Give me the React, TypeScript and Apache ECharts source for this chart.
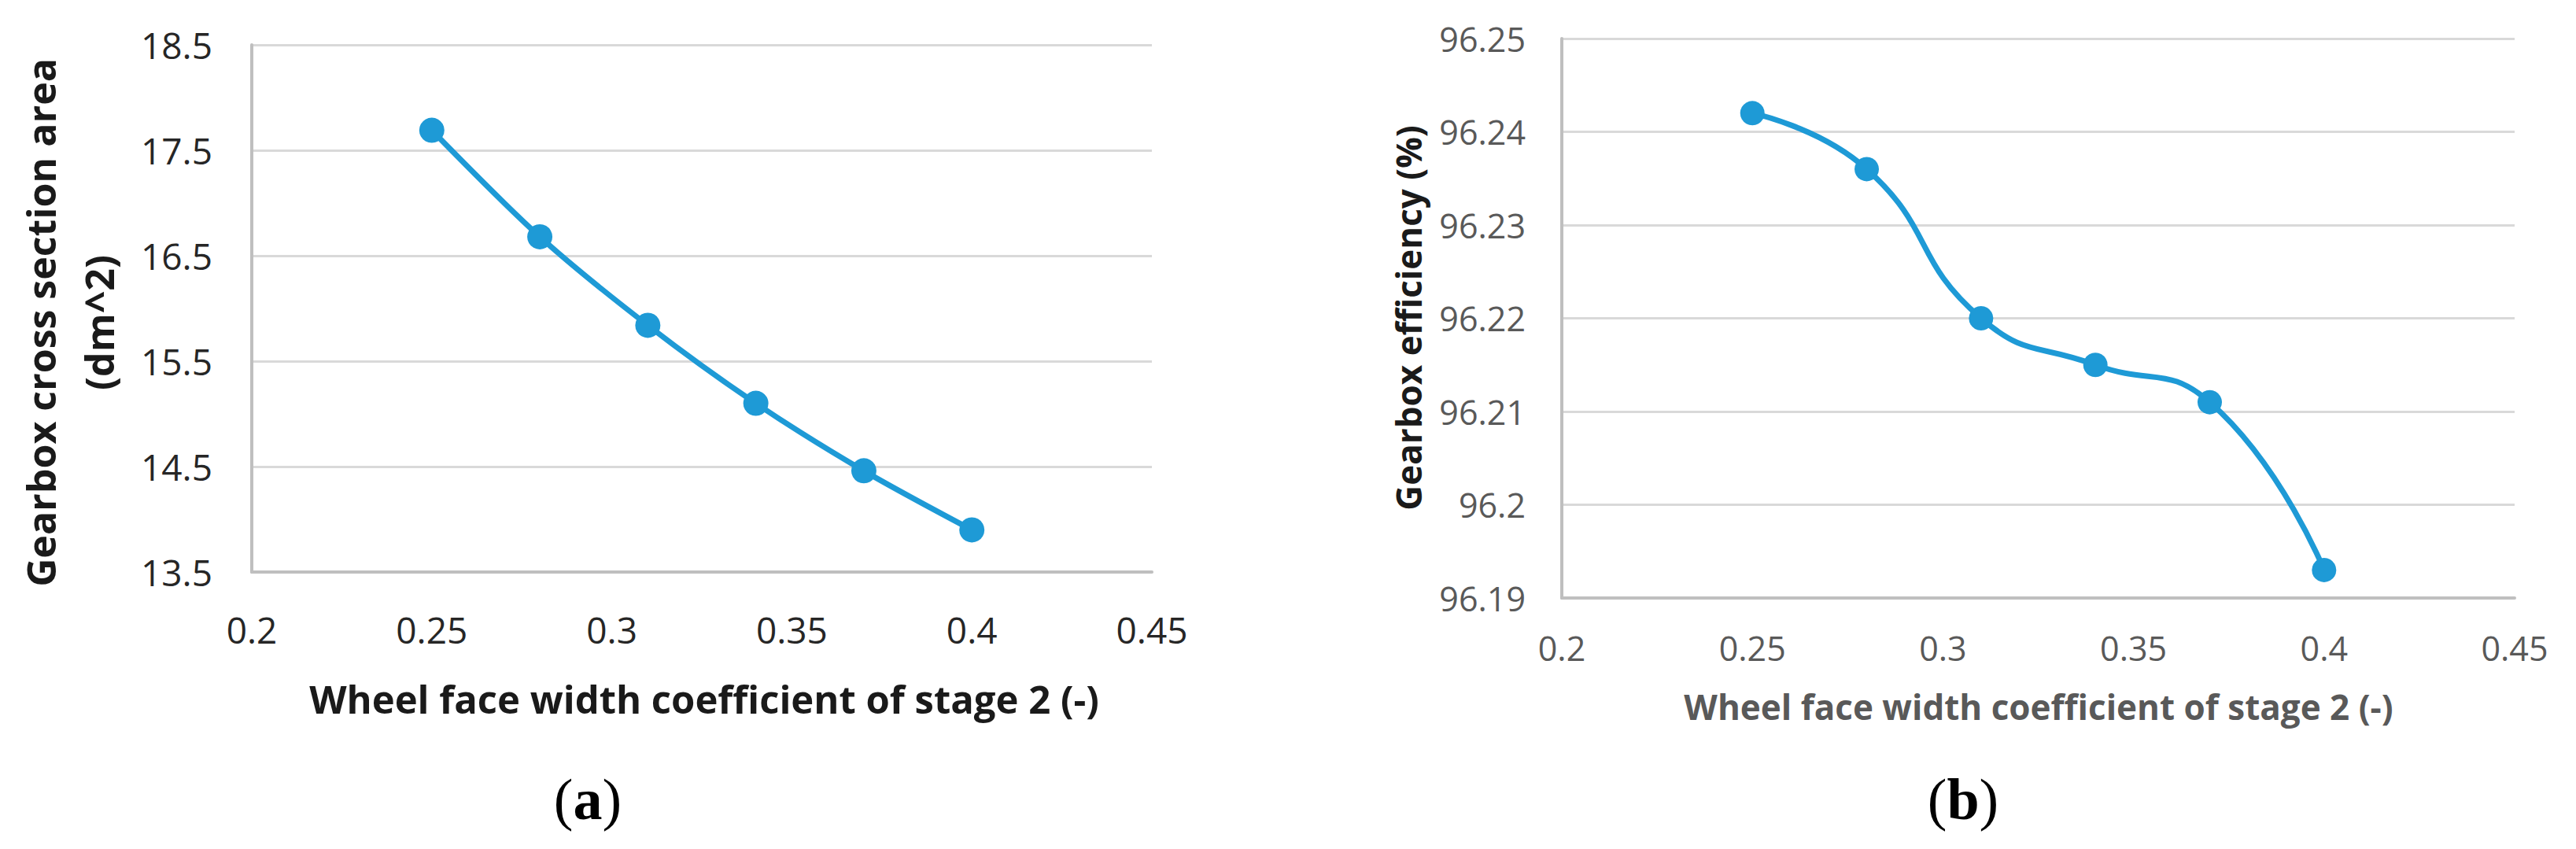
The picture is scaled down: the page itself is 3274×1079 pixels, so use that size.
import React, { useEffect, useRef } from "react";
import * as echarts from "echarts";

// ---- data ----
const stageCoefficients = [0.25, 0.28, 0.31, 0.34, 0.37, 0.4];
const crossSectionArea = [17.69, 16.68, 15.84, 15.1, 14.46, 13.9];
const gearboxEfficiency = [96.242, 96.236, 96.22, 96.215, 96.211, 96.193];

const xAxisMin = 0.2;
const xAxisMax = 0.45;
const xAxisStep = 0.05;
const areaAxisMin = 13.5;
const areaAxisMax = 18.5;
const areaAxisStep = 1;
const effAxisMin = 96.19;
const effAxisMax = 96.25;
const effAxisStep = 0.01;

const xTitle = "Wheel face width coefficient of stage 2 (-)";
const areaTitle = "Gearbox cross section area\n(dm^2)";
const effTitle = "Gearbox efficiency (%)";
const panelLabels = ["a", "b"];

const BLUE = "#1E9AD6";
const FONT = "'Open Sans', 'Noto Sans', sans-serif";

export default function App() {
  const ref = useRef<HTMLDivElement | null>(null);

  useEffect(() => {
    if (!ref.current) return;
    const chart = echarts.init(ref.current, undefined, { renderer: "svg" });

    const axisLineStyle = { show: true, onZero: false, lineStyle: { color: "#bfbfbf", width: 4 } };
    const split = { show: true, lineStyle: { color: "#d9d9d9", width: 3 } };

    const option: any = {
      animation: false,
      backgroundColor: "#ffffff",
      grid: [
        { left: 320, top: 57, width: 1144, height: 670 },
        { left: 1985, top: 49, width: 1211, height: 711 },
      ],
      xAxis: [
        {
          gridIndex: 0,
          type: "value",
          min: xAxisMin,
          max: xAxisMax,
          interval: xAxisStep,
          axisLine: axisLineStyle,
          axisTick: { show: false },
          splitLine: { show: false },
          axisLabel: { fontSize: 46, color: "#262626", margin: 50, fontFamily: FONT },
        },
        {
          gridIndex: 1,
          type: "value",
          min: xAxisMin,
          max: xAxisMax,
          interval: xAxisStep,
          axisLine: axisLineStyle,
          axisTick: { show: false },
          splitLine: { show: false },
          axisLabel: { fontSize: 43, color: "#595959", margin: 42, fontFamily: FONT },
        },
      ],
      yAxis: [
        {
          gridIndex: 0,
          type: "value",
          min: areaAxisMin,
          max: areaAxisMax,
          interval: areaAxisStep,
          axisLine: axisLineStyle,
          axisTick: { show: false },
          splitLine: split,
          axisLabel: { fontSize: 46, color: "#262626", margin: 50, fontFamily: FONT },
        },
        {
          gridIndex: 1,
          type: "value",
          min: effAxisMin,
          max: effAxisMax,
          interval: effAxisStep,
          axisLine: axisLineStyle,
          axisTick: { show: false },
          splitLine: split,
          axisLabel: { fontSize: 43, color: "#595959", margin: 46, fontFamily: FONT },
        },
      ],
      series: [
        {
          type: "line",
          xAxisIndex: 0,
          yAxisIndex: 0,
          data: stageCoefficients.map((x, i) => [x, crossSectionArea[i]]),
          smooth: 0.3,
          symbol: "circle",
          symbolSize: 32,
          lineStyle: { color: BLUE, width: 7 },
          itemStyle: { color: BLUE },
        },
        {
          type: "line",
          xAxisIndex: 1,
          yAxisIndex: 1,
          data: stageCoefficients.map((x, i) => [x, gearboxEfficiency[i]]),
          smooth: 0.5,
          symbol: "circle",
          symbolSize: 31,
          lineStyle: { color: BLUE, width: 7 },
          itemStyle: { color: BLUE },
        },
      ],
      graphic: [
        {
          type: "text",
          x: 89,
          y: 410,
          rotation: Math.PI / 2,
          style: {
            text: areaTitle,
            fontSize: 50,
            fontWeight: "bold",
            fontFamily: FONT,
            lineHeight: 74,
            fill: "#1a1a1a",
            align: "center",
            verticalAlign: "middle",
            textAlign: "center",
            textVerticalAlign: "middle",
          },
        },
        {
          type: "text",
          x: 1790,
          y: 404,
          rotation: Math.PI / 2,
          style: {
            text: effTitle,
            fontSize: 44,
            fontWeight: "bold",
            fontFamily: FONT,
            fill: "#1a1a1a",
            align: "center",
            verticalAlign: "middle",
            textAlign: "center",
            textVerticalAlign: "middle",
          },
        },
        {
          type: "text",
          x: 895,
          y: 888,
          style: {
            text: xTitle,
            fontSize: 49,
            fontWeight: "bold",
            fontFamily: FONT,
            fill: "#1a1a1a",
            align: "center",
            verticalAlign: "middle",
            textAlign: "center",
            textVerticalAlign: "middle",
          },
        },
        {
          type: "text",
          x: 2591,
          y: 898,
          style: {
            text: xTitle,
            fontSize: 44,
            fontWeight: "bold",
            fontFamily: FONT,
            fill: "#595959",
            align: "center",
            verticalAlign: "middle",
            textAlign: "center",
            textVerticalAlign: "middle",
          },
        },
        ...panelLabels.map((p, i) => ({
          type: "text",
          x: i === 0 ? 747 : 2495,
          y: 1016,
          style: {
            text: "({b|" + p + "})",
            fontSize: 74,
            fontFamily: "'Liberation Serif', 'Times New Roman', serif",
            fill: "#000000",
            align: "center",
            verticalAlign: "middle",
            textAlign: "center",
            textVerticalAlign: "middle",
            rich: {
              b: {
                fontSize: 74,
                fontWeight: "bold",
                fontFamily: "'Liberation Serif', 'Times New Roman', serif",
                fill: "#000000",
                color: "#000000",
              },
            },
          },
        })),
      ],
    };

    chart.setOption(option);
    return () => chart.dispose();
  }, []);

  return (
    <div
      ref={ref}
      style={{ position: "absolute", left: 0, top: 0, width: 3274, height: 1079, background: "#fff" }}
    />
  );
}
